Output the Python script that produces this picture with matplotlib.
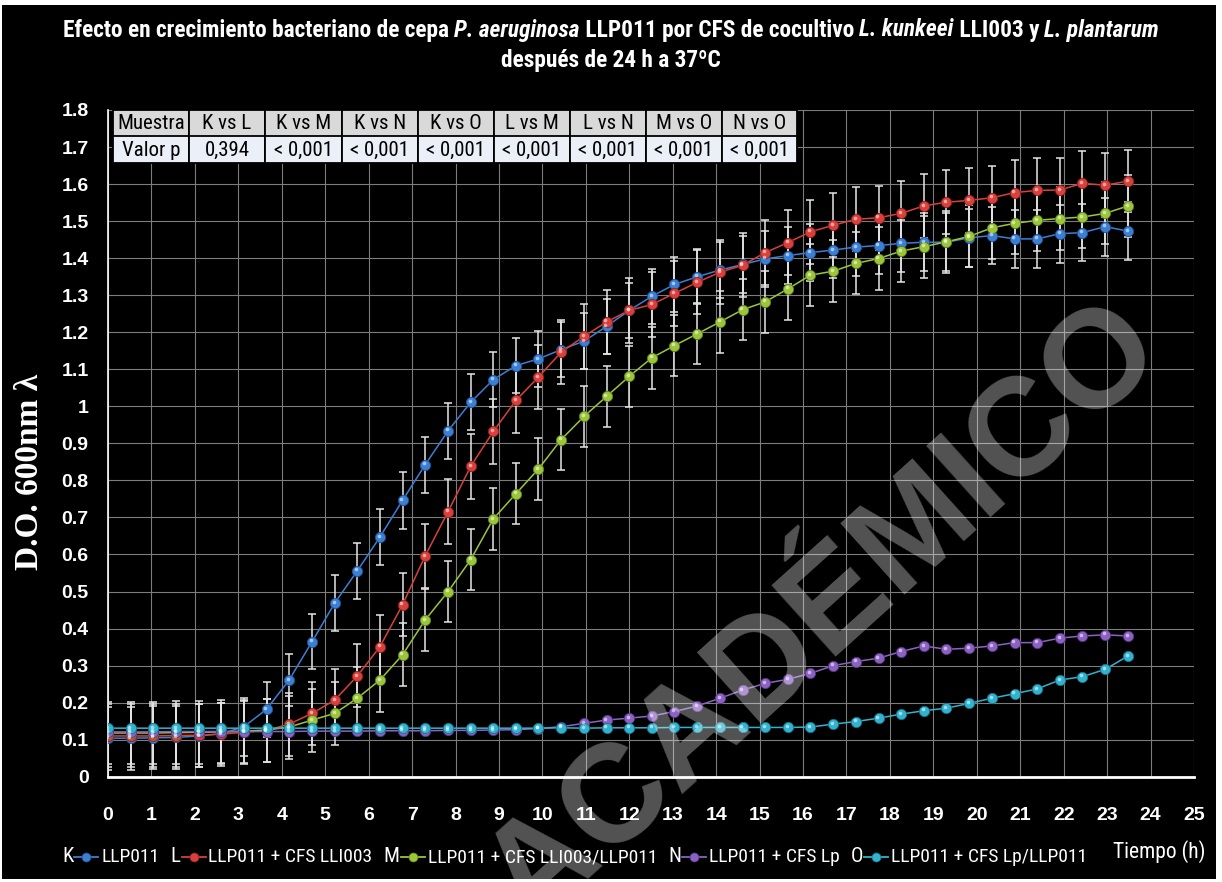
import matplotlib
matplotlib.use("Agg")
import matplotlib.pyplot as plt
import matplotlib.font_manager as fm
from matplotlib.patches import Rectangle
from matplotlib.lines import Line2D
from matplotlib.transforms import offset_copy

W, H = 1222, 882

# ---------------- data ----------------
time_h = [0.00, 0.52, 1.04, 1.57, 2.09, 2.61, 3.13, 3.65, 4.17, 4.70,
          5.22, 5.74, 6.26, 6.78, 7.30, 7.83, 8.35, 8.87, 9.39, 9.91,
          10.43, 10.96, 11.48, 12.00, 12.52, 13.04, 13.57, 14.09, 14.61, 15.13,
          15.65, 16.17, 16.70, 17.22, 17.74, 18.26, 18.78, 19.30, 19.83, 20.35,
          20.87, 21.39, 21.91, 22.43, 22.96, 23.48]

K_llp011 = [0.104, 0.104, 0.105, 0.106, 0.110, 0.116, 0.135, 0.182, 0.261, 0.365,
            0.469, 0.556, 0.647, 0.746, 0.842, 0.934, 1.011, 1.072, 1.110, 1.128,
            1.153, 1.176, 1.216, 1.259, 1.297, 1.329, 1.350, 1.368, 1.383, 1.398,
            1.407, 1.415, 1.422, 1.430, 1.434, 1.440, 1.443, 1.443, 1.455, 1.461,
            1.452, 1.452, 1.466, 1.469, 1.485, 1.473]
L_cfs_lli003 = [0.110, 0.110, 0.110, 0.111, 0.112, 0.115, 0.120, 0.125, 0.142, 0.171,
                0.207, 0.272, 0.351, 0.464, 0.596, 0.716, 0.838, 0.932, 1.016, 1.079,
                1.146, 1.189, 1.228, 1.259, 1.275, 1.305, 1.335, 1.362, 1.381, 1.415,
                1.442, 1.471, 1.489, 1.505, 1.509, 1.521, 1.541, 1.551, 1.556, 1.563,
                1.577, 1.583, 1.584, 1.602, 1.597, 1.608]
M_cfs_lli003_llp011 = [0.118, 0.118, 0.118, 0.119, 0.120, 0.121, 0.123, 0.126, 0.134, 0.153,
                       0.171, 0.212, 0.261, 0.329, 0.423, 0.500, 0.586, 0.696, 0.764, 0.831,
                       0.910, 0.973, 1.027, 1.081, 1.131, 1.164, 1.196, 1.228, 1.261, 1.282,
                       1.317, 1.354, 1.365, 1.386, 1.399, 1.419, 1.431, 1.444, 1.459, 1.482,
                       1.494, 1.502, 1.507, 1.511, 1.521, 1.541]
N_cfs_lp = [0.121, 0.121, 0.121, 0.122, 0.122, 0.122, 0.122, 0.122, 0.122, 0.123,
            0.123, 0.123, 0.124, 0.124, 0.124, 0.125, 0.125, 0.126, 0.127, 0.130,
            0.135, 0.144, 0.153, 0.158, 0.164, 0.176, 0.191, 0.212, 0.234, 0.252,
            0.263, 0.279, 0.300, 0.311, 0.320, 0.338, 0.353, 0.344, 0.347, 0.353,
            0.362, 0.362, 0.374, 0.380, 0.383, 0.380]
O_cfs_lp_llp011 = [0.131, 0.131, 0.131, 0.131, 0.131, 0.131, 0.131, 0.131, 0.131, 0.131,
                   0.131, 0.131, 0.131, 0.131, 0.131, 0.131, 0.131, 0.131, 0.131, 0.131,
                   0.132, 0.131, 0.132, 0.132, 0.132, 0.133, 0.133, 0.133, 0.133, 0.133,
                   0.133, 0.134, 0.142, 0.149, 0.158, 0.169, 0.178, 0.185, 0.198, 0.212,
                   0.224, 0.237, 0.261, 0.270, 0.290, 0.326]

K_err = [0.085, 0.085, 0.085, 0.085, 0.085, 0.082, 0.078, 0.075, 0.070, 0.075,
         0.075, 0.075, 0.075, 0.077, 0.075, 0.075, 0.075, 0.075, 0.075, 0.075,
         0.075, 0.075, 0.075, 0.075, 0.075, 0.075, 0.075, 0.076, 0.076, 0.076,
         0.076, 0.076, 0.076, 0.077, 0.077, 0.077, 0.078, 0.078, 0.078, 0.078,
         0.078, 0.078, 0.078, 0.078, 0.078, 0.078]
L_err = [0.085, 0.085, 0.085, 0.085, 0.085, 0.085, 0.085, 0.085, 0.085, 0.085,
         0.085, 0.085, 0.085, 0.085, 0.087, 0.087, 0.087, 0.087, 0.087, 0.087,
         0.087, 0.087, 0.087, 0.087, 0.087, 0.087, 0.087, 0.087, 0.087, 0.087,
         0.087, 0.087, 0.087, 0.087, 0.087, 0.087, 0.087, 0.087, 0.087, 0.087,
         0.087, 0.087, 0.087, 0.087, 0.087, 0.084]
M_err = [0.085, 0.085, 0.085, 0.085, 0.085, 0.085, 0.085, 0.085, 0.085, 0.085,
         0.085, 0.085, 0.085, 0.085, 0.083, 0.083, 0.083, 0.083, 0.083, 0.083,
         0.083, 0.083, 0.083, 0.083, 0.083, 0.083, 0.083, 0.083, 0.083, 0.083,
         0.083, 0.083, 0.084, 0.084, 0.084, 0.084, 0.084, 0.084, 0.084, 0.084,
         0.084, 0.084, 0.084, 0.084, 0.084, 0.084]
N_err = [0.005] * 46
O_err = [0.005] * 46

series_letters = ["K", "L", "M", "N", "O"]
series_labels = ["LLP011", "LLP011 + CFS LLI003", "LLP011 + CFS LLI003/LLP011",
                 "LLP011 + CFS Lp", "LLP011 + CFS Lp/LLP011"]
series_values = [K_llp011, L_cfs_lli003, M_cfs_lli003_llp011, N_cfs_lp, O_cfs_lp_llp011]
series_errors = [K_err, L_err, M_err, N_err, O_err]
series_colors = ["#3b7fd4", "#d9403c", "#9cc63a", "#8b62c2", "#31b3cf"]
series_edges = ["#1d4f8f", "#8f1f1c", "#5e7d1c", "#553387", "#17728a"]

x_ticks = list(range(0, 26))
y_ticks = [0, 0.1, 0.2, 0.3, 0.4, 0.5, 0.6, 0.7, 0.8, 0.9, 1.0,
           1.1, 1.2, 1.3, 1.4, 1.5, 1.6, 1.7, 1.8]
y_tick_labels = ["0", "0.1", "0.2", "0.3", "0.4", "0.5", "0.6", "0.7", "0.8", "0.9", "1",
                 "1.1", "1.2", "1.3", "1.4", "1.5", "1.6", "1.7", "1.8"]

table_header = ["Muestra", "K vs L", "K vs M", "K vs N", "K vs O",
                "L vs M", "L vs N", "M vs O", "N vs O"]
table_values = ["Valor p", "0,394", "< 0,001", "< 0,001", "< 0,001",
                "< 0,001", "< 0,001", "< 0,001", "< 0,001"]

title_line1 = [("Efecto en crecimiento bacteriano de cepa ", False), ("P. aeruginosa", True),
               (" LLP011 por CFS de cocultivo ", False), ("L. kunkeei", True),
               (" LLI003 y ", False), ("L. plantarum", True)]
title_line2 = [("después de 24 h a 37ºC", False)]

# ---------------- fonts ----------------
avail = {f.name for f in fm.fontManager.ttflist}
def pick(*names):
    for n in names:
        if n in avail:
            return n
    return "DejaVu Sans"
NARROW = pick("Liberation Sans Narrow", "Roboto Condensed", "Liberation Sans")
ARIAL = pick("Liberation Sans", "Arimo", "DejaVu Sans")
SERIF = pick("Liberation Serif", "DejaVu Serif")

# ---------------- figure ----------------
fig = plt.figure(figsize=(W / 100, H / 100), dpi=100, facecolor="white")
fig.patches.append(Rectangle((2 / W, 1 - 879 / H), 1214 / W, 874 / H,
                             transform=fig.transFigure, facecolor="black",
                             edgecolor="none", zorder=-10))

def fx(x):
    return x / W
def fy(y):
    return 1 - y / H

ax = fig.add_axes([fx(108), fy(776.7), (1194 - 108) / W, (776.7 - 110) / H])
ax.set_facecolor("black")
ax.set_xlim(0, 25)
ax.set_ylim(0, 1.8)
ax.set_xticks(x_ticks)
ax.set_xticklabels([str(v) for v in x_ticks])
ax.set_yticks(y_ticks)
ax.set_yticklabels(y_tick_labels)
ax.grid(True, color="#7c7c7c", linewidth=0.8)
ax.set_axisbelow(True)
for s in ["top", "right"]:
    ax.spines[s].set_visible(False)
ax.spines["left"].set_color("white")
ax.spines["left"].set_linewidth(1.2)
ax.spines["bottom"].set_color("white")
ax.spines["bottom"].set_linewidth(2.0)
ax.tick_params(axis="x", length=0, pad=22, labelsize=14, labelcolor="white")
ax.tick_params(axis="y", length=0, pad=14, labelsize=14, labelcolor="white")
for lab in ax.get_xticklabels() + ax.get_yticklabels():
    lab.set_fontfamily(ARIAL)
    lab.set_fontweight("bold")

hl = offset_copy(ax.transData, fig=fig, x=-1.2, y=1.4, units="dots")
for vals, errs, col, edge in zip(series_values, series_errors, series_colors, series_edges):
    ax.errorbar(time_h, vals, yerr=errs, fmt="none", ecolor="#e6e6e6",
                elinewidth=1.1, capsize=3, capthick=1.1, zorder=3)
for vals, col, edge in zip(series_values, series_colors, series_edges):
    ax.plot(time_h, vals, "-", color=col, linewidth=1.1, zorder=4)
    ax.plot(time_h, vals, "o", markersize=7.4, markerfacecolor=col,
            markeredgecolor=edge, markeredgewidth=0.6, zorder=5)
    ax.plot(time_h, vals, "o", markersize=2.6, color="white", alpha=0.55,
            markeredgewidth=0, transform=hl, zorder=6)

# ---------------- table ----------------
col_edges = [113, 189, 265, 342, 418, 494, 570, 646, 722, 797]
row_edges = [110, 136.5, 163]
for r, (row, fc) in enumerate(zip([table_header, table_values], ["#d9d9d9", "#eaeff8"])):
    for c, txt in enumerate(row):
        x0, x1 = col_edges[c], col_edges[c + 1]
        y0, y1 = row_edges[r], row_edges[r + 1]
        fig.patches.append(Rectangle((fx(x0), fy(y1)), (x1 - x0) / W, (y1 - y0) / H,
                                     transform=fig.transFigure, facecolor=fc,
                                     edgecolor="black", linewidth=1.3, zorder=10))
        fig.text(fx((x0 + x1) / 2), fy((y0 + y1) / 2 + 0.5), txt, ha="center", va="center",
                 fontsize=15, family=NARROW, color="black", zorder=11)

# ---------------- rich title ----------------
renderer = fig.canvas.get_renderer()

def rich_line(pieces, cy, fs, cx):
    objs = []
    for s, it in pieces:
        t = fig.text(0, fy(cy), s, fontsize=fs, family=NARROW, weight="bold",
                     style="italic" if it else "normal", color="white",
                     ha="left", va="center")
        objs.append(t)
    widths = [t.get_window_extent(renderer).width for t in objs]
    total = sum(widths)
    x = cx - total / 2
    for t, w in zip(objs, widths):
        t.set_x(fx(x))
        x += w
    return objs, total

objs, tot = rich_line(title_line1, 30, 15, 611)
fs_title = 15 * 1098 / tot
for o in objs:
    o.remove()
rich_line(title_line1, 30, fs_title, 611)
rich_line(title_line2, 60, fs_title, 611)

# ---------------- y label ----------------
fig.text(fx(30), fy(472), "D.O. 600nm λ", rotation=90, ha="center", va="center",
         fontsize=24, family=SERIF, weight="bold", color="white")

# ---------------- legend (sequential layout) ----------------
leg_y = 857
x = 62
for letter, lab, col, edge in zip(series_letters, series_labels, series_colors, series_edges):
    t = fig.text(fx(x), fy(leg_y), letter, ha="left", va="center", fontsize=15,
                 family=NARROW, color="white")
    x += t.get_window_extent(renderer).width + 1
    fig.lines.append(Line2D([fx(x), fx(x + 24)], [fy(leg_y), fy(leg_y)],
                            transform=fig.transFigure, color=col, linewidth=1.3))
    fig.lines.append(Line2D([fx(x + 12)], [fy(leg_y)], transform=fig.transFigure,
                            marker="o", markersize=6.5, markerfacecolor=col,
                            markeredgecolor=edge, markeredgewidth=0.5, linestyle="none"))
    x += 27
    t = fig.text(fx(x), fy(leg_y), lab, ha="left", va="center", fontsize=14,
                 family=NARROW, color="white")
    x += t.get_window_extent(renderer).width + 11

fig.text(fx(1113), fy(852), "Tiempo (h)", ha="left", va="center", fontsize=15.5,
         family=NARROW, color="white")

# ---------------- watermark ----------------
fig.text(fx(825), fy(615), "ACADÉMICO", rotation=42, rotation_mode="anchor",
         ha="center", va="center", fontsize=100, family=ARIAL, weight="bold",
         color="white", alpha=0.33, zorder=20)

fig.savefig("out.png", dpi=100, facecolor="white")
